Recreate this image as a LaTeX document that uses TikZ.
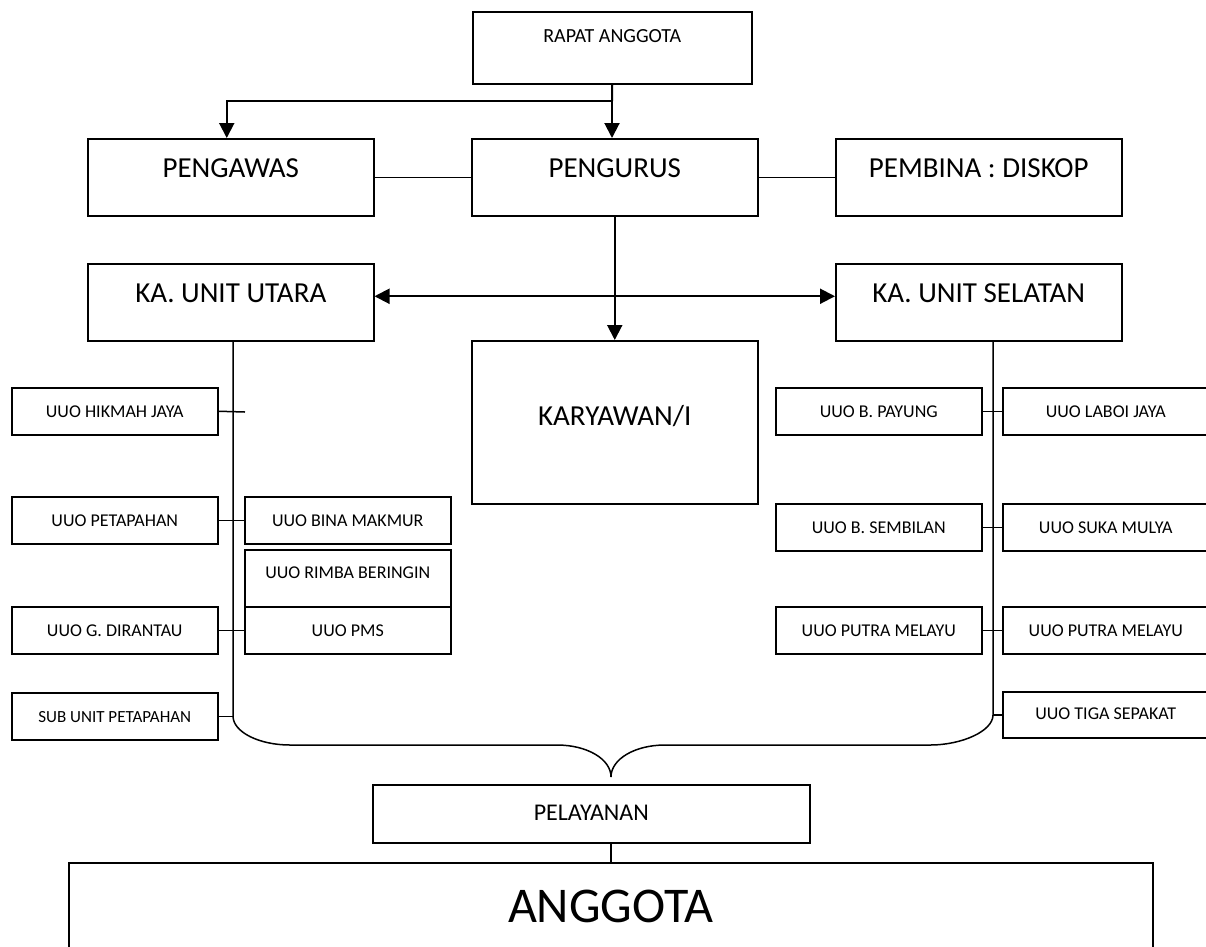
\documentclass[tikz,border=0pt]{standalone}
\usepackage{fontspec}
\setmainfont{Carlito}
\usetikzlibrary{arrows.meta}

\begin{document}
\begin{tikzpicture}[x=1pt, y=-1pt,
  box/.style = {draw, line width=1.5pt, inner sep=0pt, anchor=north west},
  big/.style = {box, font=\fontsize{29}{30}\selectfont, minimum width=286pt,
    minimum height=77pt, text height=39pt, text depth=38pt},
  small/.style = {box, font=\fontsize{18}{20}\selectfont, minimum width=206pt,
    minimum height=47pt, text height=30pt, text depth=17pt},
  line/.style = {line width=1.5pt},
  arr/.style = {line width=2pt, -{Triangle[width=15pt,length=15pt]}},
  twoarr/.style = {line width=2pt,
    {Triangle[width=15pt,length=15pt]}-{Triangle[width=15pt,length=15pt]}}]
  \clip (0,0) rectangle (1206,946);

  % top of the chart
  \node[box, font=\fontsize{20}{22}\selectfont, minimum width=279pt,
    minimum height=72pt, text height=31pt, text depth=41pt]
    (rapat) at (472,11) {RAPAT ANGGOTA};
  \node[big] (pengawas) at (87,138) {PENGAWAS};
  \node[big] (pengurus) at (471,138) {PENGURUS};
  \node[big] (pembina) at (835,138) {PEMBINA : DISKOP};
  \node[big] (utara) at (87,263) {KA. UNIT UTARA};
  \node[big] (selatan) at (835,263) {KA. UNIT SELATAN};
  \node[big, minimum height=163pt, text height=85pt, text depth=78pt]
    (karyawan) at (471,340) {KARYAWAN/I};

  % units of the north
  \node[small] (hikmah) at (11,387) {UUO HIKMAH JAYA};
  \node[small] (petapahan) at (11,496) {UUO PETAPAHAN};
  \node[small] (binamakmur) at (244,496) {UUO BINA MAKMUR};
  \node[small, minimum height=57pt, text height=29pt, text depth=28pt]
    (rimba) at (244,549) {UUO RIMBA BERINGIN};
  \node[small] (pms) at (244,606) {UUO PMS};
  \node[small] (dirantau) at (11,606) {UUO G. DIRANTAU};
  \node[small, font=\fontsize{17}{19}\selectfont] (subunit) at (11,692) {SUB UNIT PETAPAHAN};

  % units of the south
  \node[small] (payung) at (775,387) {UUO B. PAYUNG};
  \node[small] (laboi) at (1002,387) {UUO LABOI JAYA};
  \node[small] (sembilan) at (775,503) {UUO B. SEMBILAN};
  \node[small] (sukamulya) at (1002,503) {UUO SUKA MULYA};
  \node[small] (putraL) at (775,606) {UUO PUTRA MELAYU};
  \node[small] (putraR) at (1002,606) {UUO PUTRA MELAYU};
  \node[small, text height=28pt, text depth=18pt, minimum height=46pt]
    (tiga) at (1002,691) {UUO TIGA SEPAKAT};

  % bottom
  \node[box, font=\fontsize{24}{26}\selectfont, minimum width=437pt,
    minimum height=58pt, text height=36pt, text depth=22pt]
    (pelayanan) at (372,784) {PELAYANAN};
  \node[box, font=\fontsize{50}{52}\selectfont, minimum width=1084pt,
    minimum height=118pt, text height=60pt, text depth=58pt]
    (anggota) at (68,862) {ANGGOTA};

  \coordinate (split) at (612,101);
  \coordinate (hikmahtick) at (245,412);
  \coordinate (bL) at (233,716);
  \coordinate (bR) at (993,715);
  \coordinate (tip) at (611,777);

  % connectors
  \draw[line width=2pt] (rapat.south) -- (split);
  \draw[arr] (split) -| ([xshift=-4pt]pengawas.north);
  \draw[arr] (split) -- (split |- pengurus.north);
  \draw[line] (pengawas.east) -- (pengurus.west);
  \draw[line] (pengurus.east) -- (pembina.west);
  \draw[arr] (pengurus.south) -- (karyawan.north);
  \draw[twoarr] ([yshift=6pt]utara.east) -- ([yshift=6pt]selatan.west);

  \draw[line] (hikmah.east) -- (hikmahtick);
  \draw[line] (petapahan.east) -- (binamakmur.west);
  \draw[line] (dirantau.east) -- (dirantau.east -| pms.west);
  \draw[line] (subunit.east) -- (subunit.east -| bL);
  \draw[line] (payung.east) -- (laboi.west);
  \draw[line] (sembilan.east) -- (sukamulya.west);
  \draw[line] (putraL.east) -- (putraR.west);
  \draw[line] (tiga.west) -- (tiga.west -| bR);

  % the brace
  \draw[line] (utara.south -| bL) -- (bL)
    .. controls (233,732) and (259,745) .. (290,745) -- (557,745)
    .. controls (587,745) and (611,759) .. (tip)
    .. controls (611,759) and (635,745) .. (665,745) -- (930,745)
    .. controls (962,745) and (993,731) .. (bR) -- (selatan.south -| bR);
  \draw[line] (pelayanan.south -| tip) -- (anggota.north -| tip);
\end{tikzpicture}
\end{document}
